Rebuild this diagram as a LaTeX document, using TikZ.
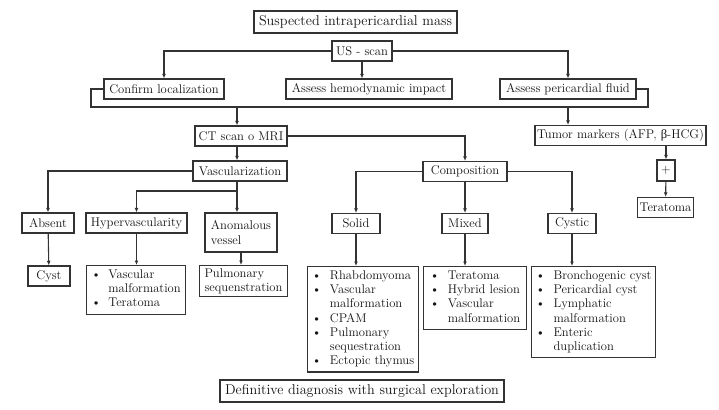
\documentclass[tikz,border=0pt]{standalone}
\usepackage{fontspec}
\usepackage{xcolor}
\usetikzlibrary{calc, arrows.meta, positioning}
\newfontfamily\greekfont{Liberation Serif}
\definecolor{cline}{HTML}{333333}
\definecolor{ctext}{HTML}{141414}

\begin{document}
\begin{tikzpicture}[x=1pt, y=-1pt, >={Latex[length=4.5pt, width=3.8pt]},
    box/.style={draw=cline, line width=1.1pt, fill=white, inner sep=2pt, minimum height=20pt,
        font=\fontsize{12.6}{14.2}\selectfont\color{ctext}},
    lst/.style={box, anchor=north west, align=left, inner sep=3pt},
    link/.style={draw=cline, line width=1.1pt}]
    \useasboundingbox (0,0) rectangle (719,409);
    % first level
    \node (mass) [box, minimum width=203pt, minimum height=22pt, font=\fontsize{14.2}{16}\selectfont\color{ctext}] at (355.5,22) {Suspected intrapericardial mass};
    \node (us) [box, minimum width=60pt] at (362,51) {US - scan};
    \node (conf) [box, minimum width=120pt] at (164,89) {Confirm localization};
    \node (hemo) [box, minimum width=166pt] at (369,89) {Assess hemodynamic impact};
    \node (fluid) [box, minimum width=136pt] at (568,89) {Assess pericardial fluid};
    \node (ct) [box, minimum width=92pt] at (241,136) {CT scan o MRI};
    \node (tumor) [box, minimum width=163pt] at (620.5,135.5) {Tumor markers (AFP, {\greekfont β}-HCG)};
    \node (plus) [box, minimum width=18pt, minimum height=21pt] at (666,170.5) {+};
    \node (tera) [box, minimum width=55pt] at (665.5,207.5) {Teratoma};
    % imaging branches
    \node (vasc) [box, minimum width=94pt] at (240,171) {Vascularization};
    \node (comp) [box, minimum width=84pt] at (465,171.5) {Composition};
    \node (absent) [box, minimum width=52pt] at (48,223) {Absent};
    \node (hyper) [box, minimum width=101pt] at (136.5,223) {Hypervascularity};
    \node (anom) [box, minimum width=72pt, minimum height=39pt, align=left] at (241,232.5) {Anomalous\\vessel};
    \node (solid) [box, minimum width=48pt] at (356,223.5) {Solid};
    \node (mixed) [box, minimum width=46pt] at (465,223.5) {Mixed};
    \node (cystic) [box, minimum width=48pt] at (572,223.5) {Cystic};
    % results
    \node (cyst) [box, minimum width=42pt] at (49,276) {Cyst};
    \node (hlist) [lst, minimum width=99pt] at (86,265) {\begin{tabular}{@{}p{17pt}@{}l@{}}
        \textbullet & Vascular\\ & malformation\\ \textbullet & Teratoma\end{tabular}};
    \node (pulm) [lst, minimum width=88pt, inner sep=3pt] at (199,265) {Pulmonary\\sequenstration};
    \node (slist) [lst, minimum width=111pt] at (307,266) {\begin{tabular}{@{}p{18pt}@{}l@{}}
        \textbullet & Rhabdomyoma\\ \textbullet & Vascular\\ & malformation\\ \textbullet & CPAM\\
        \textbullet & Pulmonary\\ & sequestration\\ \textbullet & Ectopic thymus\end{tabular}};
    \node (mlist) [lst, minimum width=103pt] at (423,266) {\begin{tabular}{@{}p{18pt}@{}l@{}}
        \textbullet & Teratoma\\ \textbullet & Hybrid lesion\\ \textbullet & Vascular\\ & malformation\end{tabular}};
    \node (clist) [lst, minimum width=124pt] at (531,266) {\begin{tabular}{@{}p{18pt}@{}l@{}}
        \textbullet & Bronchogenic cyst\\ \textbullet & Pericardial cyst\\ \textbullet & Lymphatic\\ & malformation\\
        \textbullet & Enteric\\ & duplication\end{tabular}};
    \node (defin) [box, minimum width=284pt, minimum height=22pt, font=\fontsize{14.2}{16}\selectfont\color{ctext}] at (362,391) {Definitive diagnosis with surgical exploration};
    % bracket and junctions
    \coordinate (bl) at (91,107);
    \coordinate (br) at (648,107);
    \coordinate (vj) at (237,191);
    \draw[link, ->] (us.west) -| (conf.north);
    \draw[link, ->] (us.south) -- (us.south |- hemo.north);
    \draw[link, ->] (us.east) -| (fluid.north);
    \draw[link] (conf.west) -| (bl) -- (br) |- (fluid.east);
    \draw[link, ->] (bl -| vj) -- (vj |- ct.north);
    \draw[link, ->] (bl -| fluid.south) -- (fluid.south |- tumor.north);
    \draw[link, ->] (plus.north |- tumor.south) -- (plus.north);
    \draw[link, ->] (plus) -- (tera);
    \draw[link, ->] (vj |- ct.south) -- (vj |- vasc.north);
    \draw[link, ->] (ct.east) -| (comp.north);
    \draw[link, ->] (vasc.west) -| (absent.north);
    \draw[link] (vj |- vasc.south) -- (vj);
    \draw[link, ->] (vj) -| (hyper.north);
    \draw[link, ->] (vj) -- (vj |- anom.north);
    \draw[link, ->] (comp.west) -| (solid.north);
    \draw[link, ->] (comp) -- (mixed);
    \draw[link, ->] (comp.east) -| (cystic.north);
    \draw[link, ->] (absent) -- (cyst);
    \draw[link, ->] (hyper.south) -- (hyper.south |- hlist.north);
    \draw[link, ->] (anom.south) -- (anom.south |- pulm.north);
    \foreach \a/\b in {solid/slist, mixed/mlist, cystic/clist}
        \draw[link, ->] (\a.south) -- (\a.south |- \b.north);
\end{tikzpicture}
\end{document}
